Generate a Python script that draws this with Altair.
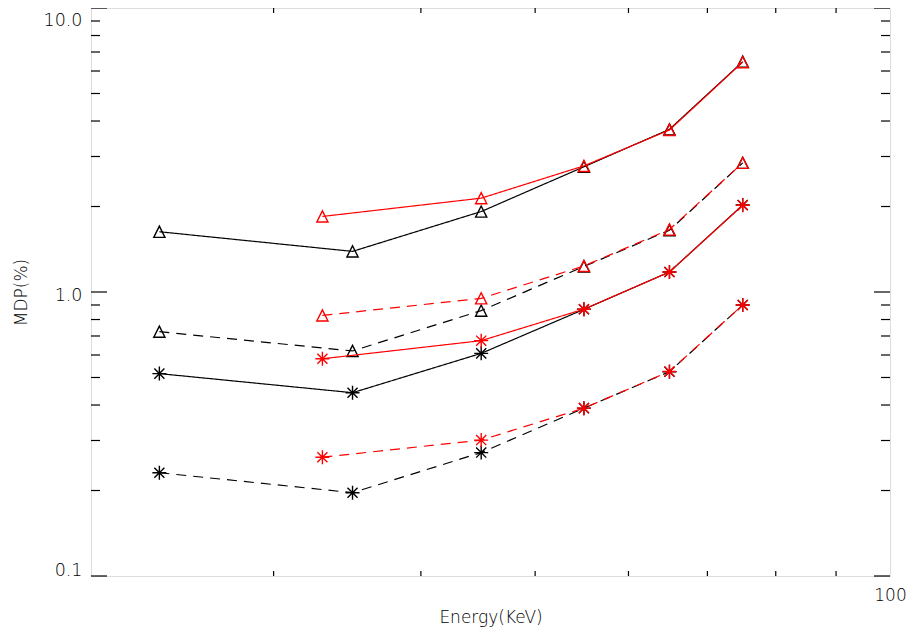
import altair as alt
import pandas as pd

# ---- data ----
E_black = [24, 35, 45, 55, 65, 75]
E_red = [33, 45, 55, 65, 75]

black_tri_solid = [1.63, 1.39, 1.92, 2.76, 3.74, 6.47]
black_tri_dash = [0.725, 0.62, 0.86, 1.23, 1.65, 2.85]
black_ast_solid = [0.516, 0.442, 0.608, 0.869, 1.176, 2.025]
black_ast_dash = [0.231, 0.1965, 0.272, 0.39, 0.524, 0.90]

red_tri_solid = [1.845, 2.14, 2.78, 3.72, 6.45]
red_tri_dash = [0.827, 0.95, 1.235, 1.66, 2.85]
red_ast_solid = [0.582, 0.674, 0.87, 1.176, 2.02]
red_ast_dash = [0.262, 0.301, 0.39, 0.525, 0.90]

x_minor_ticks = [30, 40, 50, 60, 70, 80, 90]
x_tick_labels = [100]
y_major_ticks = [0.1, 1.0, 10.0]
y_minor_ticks = [0.2, 0.3, 0.4, 0.5, 0.6, 0.7, 0.8, 0.9, 2, 3, 4, 5, 6, 7, 8, 9]

# ---- build long table ----
series_defs = [
    ("black", "solid", "tri", E_black, black_tri_solid),
    ("black", "dashed", "tri", E_black, black_tri_dash),
    ("black", "solid", "ast", E_black, black_ast_solid),
    ("black", "dashed", "ast", E_black, black_ast_dash),
    ("red", "solid", "tri", E_red, red_tri_solid),
    ("red", "dashed", "tri", E_red, red_tri_dash),
    ("red", "solid", "ast", E_red, red_ast_solid),
    ("red", "dashed", "ast", E_red, red_ast_dash),
]
rows = []
for i, (col, dash, shp, es, vs) in enumerate(series_defs):
    for e, v in zip(es, vs):
        rows.append({"series": f"s{i}", "col": col, "dash": dash, "shp": shp, "E": e, "v": v})
df = pd.DataFrame(rows)

W, H = 799, 568
FONT = "DejaVu Sans"
FW = 200

xscale = alt.Scale(type="log", domain=[21, 100], nice=False)
yscale = alt.Scale(type="log", domain=[0.1, 10], nice=False)

xaxis = alt.Axis(values=x_tick_labels, format="d", grid=False, domain=False, ticks=False,
                 labelFlush=False, labelPadding=11, labelFontSize=17, labelFont=FONT,
                 labelFontWeight=FW, labelColor="black", title="Energy(KeV)", titleFont=FONT,
                 titleFontSize=17, titleFontWeight=FW, titleColor="black", titlePadding=6)
yaxis = alt.Axis(values=y_major_ticks, labelExpr="format(datum.value, '.1f')", grid=False,
                 domain=False, ticks=False, labelFlush=True, labelOffset=3, labelPadding=9,
                 labelFontSize=17.5, labelFont=FONT, labelFontWeight=FW, labelColor="black",
                 title="MDP(%)", titleFont=FONT, titleFontSize=17, titleFontWeight=FW,
                 titleColor="black", titlePadding=13)

X = alt.X("E:Q", scale=xscale, axis=xaxis)
Y = alt.Y("v:Q", scale=yscale, axis=yaxis)

color_enc = alt.Color("col:N", scale=alt.Scale(domain=["black", "red"], range=["#000000", "#ff0000"]), legend=None)
dash_enc = alt.StrokeDash("dash:N", scale=alt.Scale(domain=["solid", "dashed"], range=[[1, 0], [10, 7]]), legend=None)
tri_path = "M0,-1L1,1L-1,1Z"
ast_path = "M-1,0L1,0M0,-1L0,1M-0.72,-0.72L0.72,0.72M-0.72,0.72L0.72,-0.72"
shape_enc = alt.Shape("shp:N", scale=alt.Scale(domain=["tri", "ast"], range=[tri_path, ast_path]), legend=None)
size_enc = alt.Size("shp:N", scale=alt.Scale(domain=["tri", "ast"], range=[125, 196]), legend=None)

layers = []
for col in ["black", "red"]:
    base = alt.Chart(df).transform_filter(alt.datum.col == col)
    layers.append(base.mark_line(strokeWidth=1.2).encode(
        x=X, y=Y, color=color_enc, strokeDash=dash_enc, detail="series:N", order="E:Q"))
    layers.append(base.mark_point(filled=False, strokeWidth=1.4, opacity=1).encode(
        x=X, y=Y, color=color_enc, shape=shape_enc, size=size_enc))

ymaj = alt.Chart(pd.DataFrame({"v": y_major_ticks}))
ymin = alt.Chart(pd.DataFrame({"v": y_minor_ticks}))
xmin = alt.Chart(pd.DataFrame({"E": x_minor_ticks}))
tick_style = dict(color="black", strokeWidth=1.2)
layers += [
    ymaj.mark_rule(**tick_style).encode(y=Y, x=alt.value(0), x2=alt.value(16)),
    ymin.mark_rule(**tick_style).encode(y=Y, x=alt.value(0), x2=alt.value(9)),
    ymaj.mark_rule(**tick_style).encode(y=Y, x=alt.value(W), x2=alt.value(W - 16)),
    ymin.mark_rule(**tick_style).encode(y=Y, x=alt.value(W), x2=alt.value(W - 9)),
    xmin.mark_rule(**tick_style).encode(x=X, y=alt.value(H), y2=alt.value(H - 5)),
    xmin.mark_rule(**tick_style).encode(x=X, y=alt.value(0), y2=alt.value(5)),
]

chart = alt.layer(*layers).properties(
    width=W, height=H,
    padding={"left": 83, "top": 0, "right": 16, "bottom": 54},
    autosize=alt.AutoSizeParams(type="none"),
).configure_view(stroke="#222222", strokeWidth=1.6).configure(background="white")

chart.save("out.html", embed_options={"renderer": "svg", "actions": False})
